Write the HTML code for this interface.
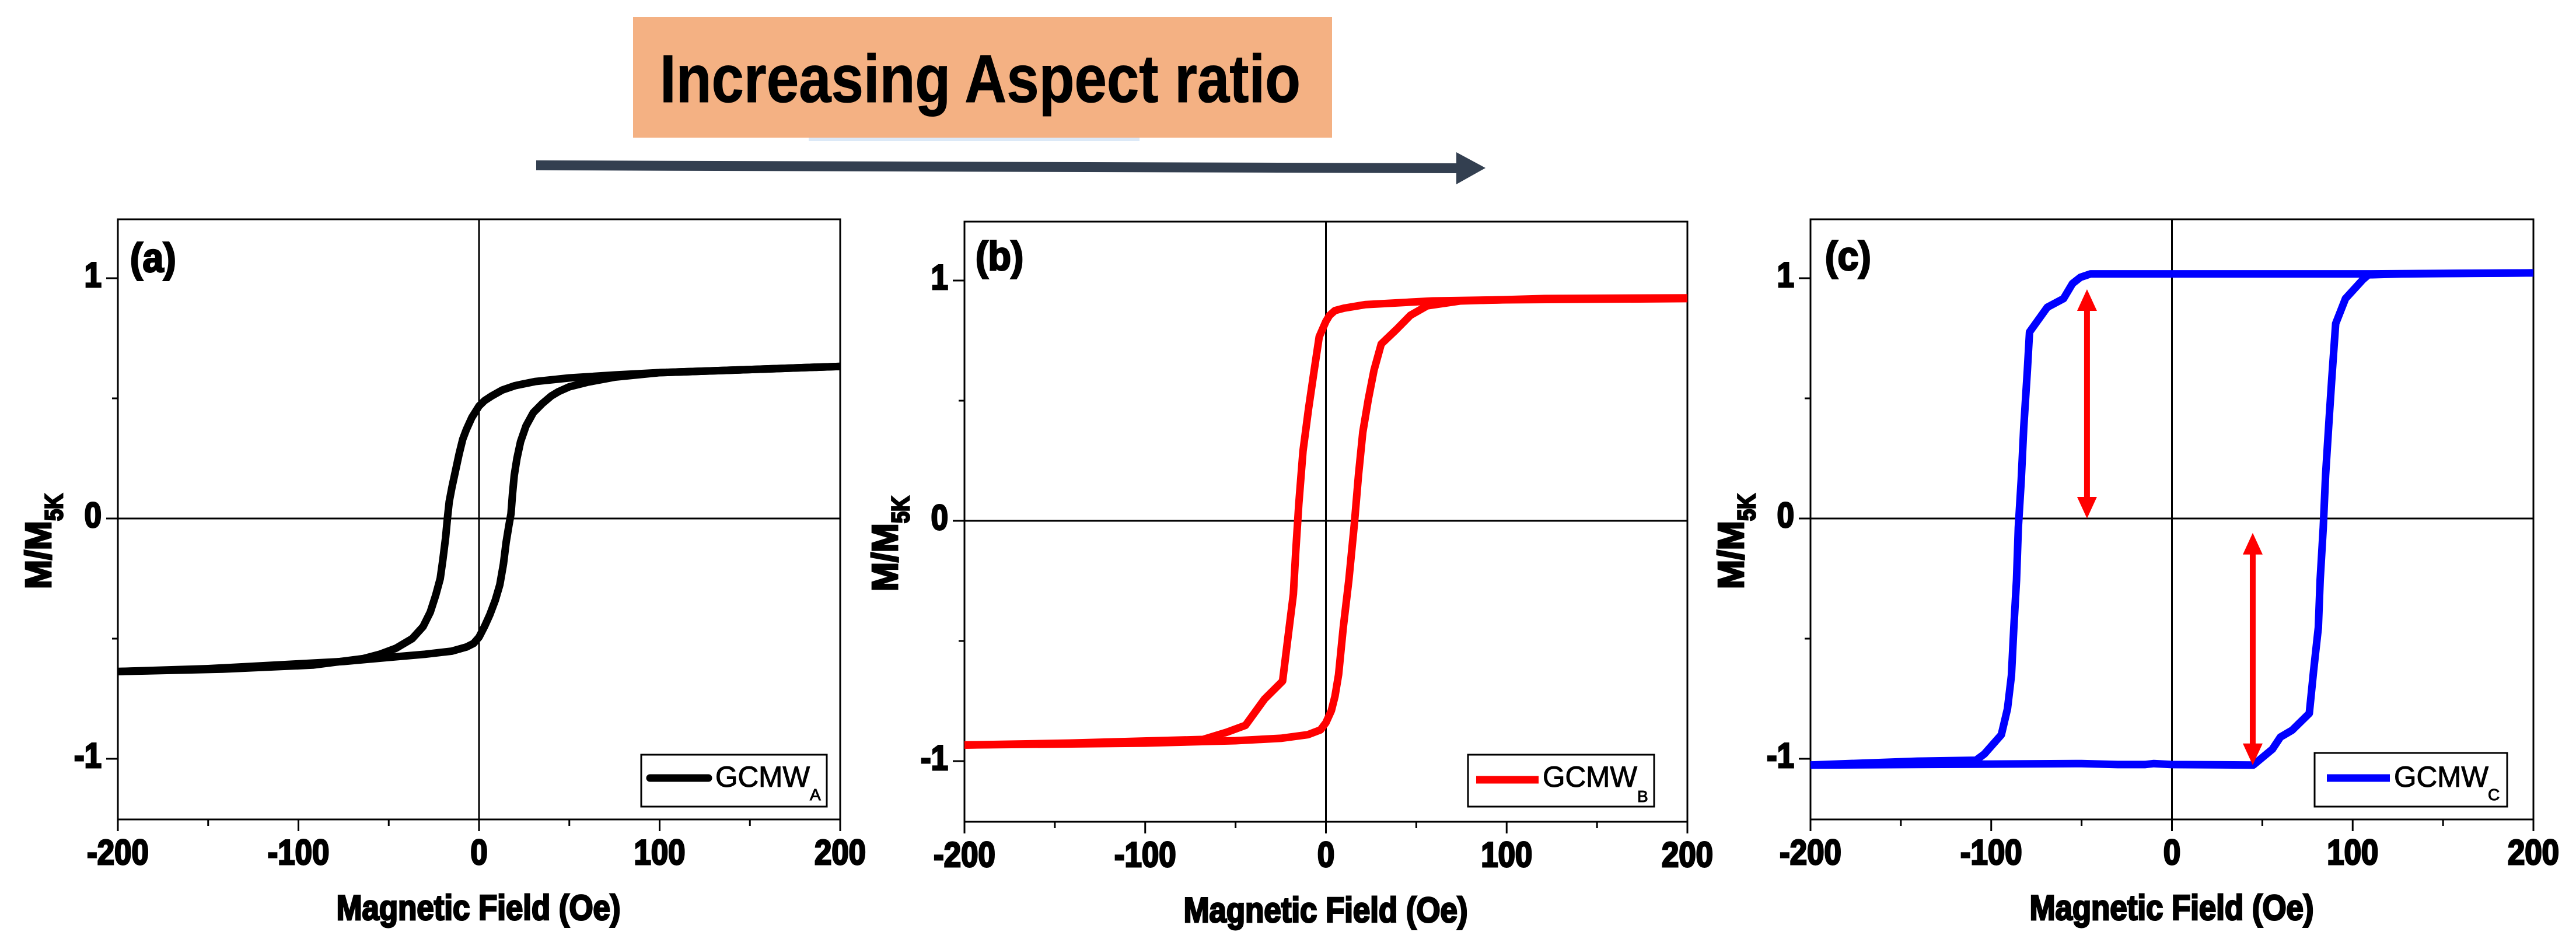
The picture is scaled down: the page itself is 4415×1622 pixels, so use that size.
<!DOCTYPE html>
<html lang="en">
<head>
<meta charset="utf-8">
<title>Hysteresis loops with increasing aspect ratio</title>
<style>
html,body{margin:0;padding:0;background:#fff;}
svg{display:block;}
text{font-family:"Liberation Sans",sans-serif;fill:#000;}
.bold{font-weight:700;stroke:#000;stroke-width:3px;}
.legend-text{font-weight:400;stroke:#000;stroke-width:1px;}
</style>
</head>
<body>
<svg id="figure" xmlns="http://www.w3.org/2000/svg" width="4415" height="1622" viewBox="0 0 4415 1622">
  <rect x="0" y="0" width="4415" height="1622" fill="#ffffff"/>

  <g>
    <rect x="1386" y="236" width="567" height="6" fill="#dce9f7"/>
    <rect x="1085" y="29" width="1198" height="207" fill="#f4b183"/>
    <text x="1131" y="175" font-size="116" font-weight="700" stroke="#000" stroke-width="1" textLength="1098" lengthAdjust="spacingAndGlyphs">Increasing Aspect ratio</text>
    <polygon points="919,275 2496,280 2496,261 2546,288 2496,316 2496,297 919,292" fill="#333f50"/>
  </g>

  <g id="panel-a">
    <rect x="202" y="376" width="1238" height="1029" fill="none" stroke="#000" stroke-width="3"/>
    <text class="bold" transform="translate(223,466) scale(.92,1)" font-size="70">(a)</text>
    <text class="bold" transform="translate(87,1010) rotate(-90) scale(.97,1)" font-size="62">M/M</text>
    <text class="bold" transform="translate(107,893) rotate(-90) scale(.84,1)" font-size="43">5K</text>
    <text class="bold" transform="translate(820,1577) scale(.88,1)" font-size="60" text-anchor="middle">Magnetic Field (Oe)</text>
    <g>
      <rect x="1099" y="1294" width="318" height="89" fill="#fff" stroke="#000" stroke-width="3"/>
      <line x1="1114" x2="1214" y1="1334" y2="1334" stroke="#000" stroke-width="13" stroke-linecap="round"/>
      <text class="legend-text" x="1226" y="1349" font-size="50" textLength="162" lengthAdjust="spacingAndGlyphs">GCMW</text>
      <text class="legend-text" x="1388" y="1372" font-size="28">A</text>
    </g>
  </g>

  <g id="panel-b">
    <rect x="1653" y="380" width="1239" height="1029" fill="none" stroke="#000" stroke-width="3"/>
    <text class="bold" transform="translate(1672,463) scale(.92,1)" font-size="70">(b)</text>
    <text class="bold" transform="translate(1538,1014) rotate(-90) scale(.97,1)" font-size="62">M/M</text>
    <text class="bold" transform="translate(1558,897) rotate(-90) scale(.84,1)" font-size="43">5K</text>
    <text class="bold" transform="translate(2272,1581) scale(.88,1)" font-size="60" text-anchor="middle">Magnetic Field (Oe)</text>
    <g>
      <rect x="2516" y="1294" width="319" height="89" fill="#fff" stroke="#000" stroke-width="3"/>
      <line x1="2530" x2="2637" y1="1337" y2="1337" stroke="#ff0000" stroke-width="13"/>
      <text class="legend-text" x="2644" y="1349" font-size="50" textLength="162" lengthAdjust="spacingAndGlyphs">GCMW</text>
      <text class="legend-text" x="2806" y="1375" font-size="28">B</text>
    </g>
  </g>

  <g id="panel-c">
    <rect x="3103" y="376" width="1239" height="1029" fill="none" stroke="#000" stroke-width="3"/>
    <text class="bold" transform="translate(3128,463) scale(.92,1)" font-size="70">(c)</text>
    <text class="bold" transform="translate(2988,1010) rotate(-90) scale(.97,1)" font-size="62">M/M</text>
    <text class="bold" transform="translate(3008,893) rotate(-90) scale(.84,1)" font-size="43">5K</text>
    <text class="bold" transform="translate(3722,1577) scale(.88,1)" font-size="60" text-anchor="middle">Magnetic Field (Oe)</text>
    <g>
      <rect x="3967" y="1291" width="330" height="92" fill="#fff" stroke="#000" stroke-width="3"/>
      <line x1="3988" x2="4096" y1="1334" y2="1334" stroke="#0000ff" stroke-width="13"/>
      <text class="legend-text" x="4103" y="1349" font-size="50" textLength="162" lengthAdjust="spacingAndGlyphs">GCMW</text>
      <text class="legend-text" x="4264" y="1372" font-size="28">C</text>
    </g>
  </g>
</svg>

<script>
// Axis tick values and labels
const xMajorTicks = [-200, -100, 0, 100, 200];
const xMinorTicks = [-150, -50, 50, 150];
const yMajorTicks = [-1, 0, 1];
const yMinorTicks = [-0.5, 0.5];
const xTickLabels = ['-200', '-100', '0', '100', '200'];
const yTickLabels = ['-1', '0', '1'];

// Panel (a) GCMW-A
const aDescField = [200, 150, 100, 75, 50, 31, 20, 13, 7, 3, 0, -4, -7, -9, -11, -13, -15, -16.5, -17.5, -18.5, -20, -21.5, -24, -27, -31, -37, -46, -55, -64, -92, -142, -200];
const aDescMag = [0.633, 0.62, 0.607, 0.597, 0.585, 0.57, 0.553, 0.535, 0.51, 0.49, 0.468, 0.42, 0.37, 0.33, 0.27, 0.2, 0.13, 0.07, 0, -0.08, -0.17, -0.25, -0.32, -0.39, -0.45, -0.5, -0.54, -0.565, -0.583, -0.61, -0.627, -0.637];
const aAscField = [-200, -150, -100, -75, -50, -30, -15, -7, -3, 0, 3, 6, 9, 11.5, 13.5, 15, 16.5, 17.7, 18.5, 19.5, 21, 23, 26, 30, 35, 40, 44, 50, 60, 75, 100, 150, 200];
const aAscMag = [-0.637, -0.625, -0.605, -0.595, -0.578, -0.565, -0.552, -0.535, -0.52, -0.494, -0.45, -0.4, -0.34, -0.276, -0.19, -0.1, -0.03, 0.02, 0.1, 0.18, 0.25, 0.32, 0.385, 0.44, 0.478, 0.51, 0.528, 0.548, 0.567, 0.588, 0.607, 0.62, 0.633];

// Panel (b) GCMW-B
const bDescField = [200, 100, 59, 22, 10, 5, 2, 0, -3.7, -6.5, -9.6, -12.7, -15, -16.7, -18, -21, -24, -34, -44.5, -55, -68, -142, -200];
const bDescMag = [0.925, 0.92, 0.915, 0.9, 0.885, 0.875, 0.855, 0.83, 0.766, 0.627, 0.468, 0.29, 0.07, -0.127, -0.305, -0.484, -0.667, -0.742, -0.851, -0.88, -0.91, -0.925, -0.933];
const bAscField = [-200, -100, -50, -25, -10, -3, 0, 3, 5, 7, 9.6, 12.7, 15.8, 18, 20.4, 23.5, 26.6, 30.6, 39, 46.7, 56, 74.5, 121, 200];
const bAscMag = [-0.933, -0.925, -0.915, -0.905, -0.89, -0.87, -0.84, -0.79, -0.73, -0.64, -0.444, -0.246, -0.008, 0.19, 0.369, 0.508, 0.627, 0.736, 0.796, 0.855, 0.895, 0.915, 0.925, 0.928];

// Panel (c) GCMW-C
const cDescField = [200, 108.7, 0, -45, -50.6, -55, -60, -69, -78.8, -80, -82, -83.4, -85, -86, -87.5, -88.8, -91, -94.4, -103.8, -108.4, -141, -200];
const cDescMag = [1.022, 1.018, 1.018, 1.018, 1.004, 0.978, 0.915, 0.879, 0.776, 0.617, 0.379, 0.161, -0.038, -0.256, -0.454, -0.653, -0.792, -0.9, -0.98, -1.006, -1.01, -1.026];
const cAscField = [-200, -100, -50, -30, -15, -10, 0, 45, 55.6, 60, 66.5, 76, 78.4, 81, 82, 83.7, 85, 87, 88.4, 90.6, 96, 105.6, 108.7, 127, 200];
const cAscMag = [-1.026, -1.022, -1.02, -1.024, -1.024, -1.02, -1.024, -1.026, -0.96, -0.91, -0.881, -0.811, -0.633, -0.454, -0.256, -0.038, 0.18, 0.419, 0.577, 0.811, 0.915, 0.994, 1.014, 1.018, 1.022];

// Panel (c) double-headed annotation arrows
const arrowField = [-47, 44.7];
const arrowMagFrom = [0, -1.026];
const arrowMagTo = [0.954, -0.06];

const NS = 'http://www.w3.org/2000/svg';

function mk(parent, tag, attrs, text) {
  const el = document.createElementNS(NS, tag);
  for (const k in attrs) el.setAttribute(k, attrs[k]);
  if (text !== undefined) el.textContent = text;
  parent.appendChild(el);
  return el;
}

function drawPanel(id, layout, color, curves, curveWidth) {
  const root = document.getElementById('panel-' + id);
  const xAt = v => layout.left + (v + 200) * (layout.right - layout.left) / 400;
  const yAt = v => layout.zeroY - v * 412;
  const axes = mk(root, 'g', {});
  
  

  const hZero = mk(axes, 'line', {x1: layout.left, x2: layout.right, y1: yAt(0), y2: yAt(0), stroke: '#000', 'stroke-width': 3});
  
  
  const vZero = mk(axes, 'line', {x1: xAt(0), x2: xAt(0), y1: layout.top, y2: layout.bottom, stroke: '#000', 'stroke-width': 3});
  
  

  xMajorTicks.forEach((v, i) => {
    const tick = mk(axes, 'line', {x1: xAt(v), x2: xAt(v), y1: layout.bottom, y2: layout.bottom + 20, stroke: '#000', 'stroke-width': 3});
    
    
    const label = mk(axes, 'text', {class: 'bold', transform: 'translate(' + xAt(v) + ',' + (layout.bottom + 77) + ') scale(.88,1)', 'font-size': 60, 'text-anchor': 'middle'}, xTickLabels[i]);
    
    
  });
  xMinorTicks.forEach(v => {
    const tick = mk(axes, 'line', {x1: xAt(v), x2: xAt(v), y1: layout.bottom, y2: layout.bottom + 11, stroke: '#000', 'stroke-width': 3});
    
    
  });
  yMajorTicks.forEach((v, i) => {
    const tick = mk(axes, 'line', {x1: layout.left - 20, x2: layout.left, y1: yAt(v), y2: yAt(v), stroke: '#000', 'stroke-width': 3});
    
    
    const label = mk(axes, 'text', {class: 'bold', transform: 'translate(' + (layout.left - 28) + ',' + (yAt(v) + 15) + ') scale(.88,1)', 'font-size': 60, 'text-anchor': 'end'}, yTickLabels[i]);
    
    
  });
  yMinorTicks.forEach(v => {
    const tick = mk(axes, 'line', {x1: layout.left - 10, x2: layout.left, y1: yAt(v), y2: yAt(v), stroke: '#000', 'stroke-width': 3});
    
    
  });

  curves.forEach(c => {
    const d = c.field.map((f, i) => (i ? 'L' : 'M') + xAt(f).toFixed(1) + ' ' + yAt(c.mag[i]).toFixed(1)).join(' ');
    const path = mk(root, 'path', {d: d, fill: 'none', stroke: color, 'stroke-width': curveWidth, 'stroke-linejoin': 'round', 'stroke-linecap': 'butt'});
    
    
  });
  return {root, xAt, yAt};
}

drawPanel('a', {left: 202, right: 1440, top: 376, bottom: 1405, zeroY: 889}, '#000000', [
  {name: 'curve-a-descending', field: aDescField, mag: aDescMag},
  {name: 'curve-a-ascending', field: aAscField, mag: aAscMag}
], 13);

drawPanel('b', {left: 1653, right: 2892, top: 380, bottom: 1409, zeroY: 893}, '#ff0000', [
  {name: 'curve-b-descending', field: bDescField, mag: bDescMag},
  {name: 'curve-b-ascending', field: bAscField, mag: bAscMag}
], 13);

const panelC = drawPanel('c', {left: 3103, right: 4342, top: 376, bottom: 1405, zeroY: 889}, '#0000ff', [
  {name: 'curve-c-descending', field: cDescField, mag: cDescMag},
  {name: 'curve-c-ascending', field: cAscField, mag: cAscMag}
], 13);

arrowField.forEach((f, i) => {
  const x = panelC.xAt(f);
  const yLow = panelC.yAt(arrowMagFrom[i]);
  const yHigh = panelC.yAt(arrowMagTo[i]);
  const g = mk(panelC.root, 'g', {});
  
  
  const shaft = mk(g, 'line', {x1: x, x2: x, y1: yHigh + 30, y2: yLow - 30, stroke: '#ff0000', 'stroke-width': 10});
  
  
  const top = mk(g, 'polygon', {points: x + ',' + yHigh + ' ' + (x - 17) + ',' + (yHigh + 37) + ' ' + (x + 17) + ',' + (yHigh + 37), fill: '#ff0000'});
  
  
  const bottom = mk(g, 'polygon', {points: x + ',' + yLow + ' ' + (x - 17) + ',' + (yLow - 37) + ' ' + (x + 17) + ',' + (yLow - 37), fill: '#ff0000'});
  
  
});
</script>
</body>
</html>
